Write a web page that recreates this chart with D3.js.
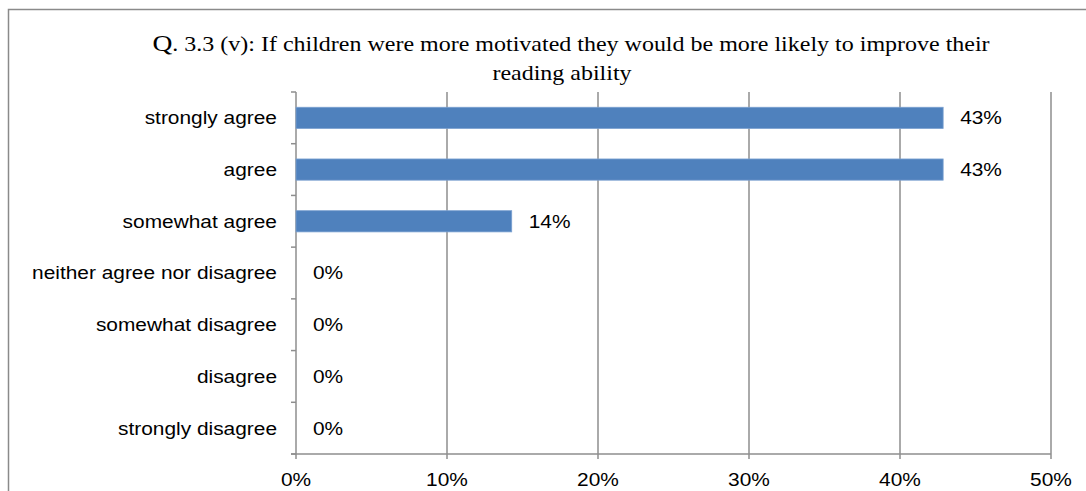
<!DOCTYPE html>
<html>
<head>
<meta charset="utf-8">
<script src="https://cdn.jsdelivr.net/npm/d3@7"></script>
<style>
  html, body { margin: 0; padding: 0; background: #fff; }
  svg { display: block; }
</style>
</head>
<body>
<svg id="chart" width="1086" height="491"></svg>
<script>
// Survey responses, share of respondents per answer
const categories = [
  "strongly agree",
  "agree",
  "somewhat agree",
  "neither agree nor disagree",
  "somewhat disagree",
  "disagree",
  "strongly disagree"
];
const shares = [3 / 7, 3 / 7, 1 / 7, 0, 0, 0, 0];
const xTicks = [0, 0.1, 0.2, 0.3, 0.4, 0.5];
const titleLines = [
  "Q. 3.3 (v): If children were more motivated they would be more likely to improve their",
  "reading ability"
];

const svg = d3.select("#chart");
const W = 1086, H = 491;
const plot = { left: 296, right: 1051, top: 92, bottom: 454 };
const gridColor = "#8e8e8e";
const barColor = "#4f81bd";
const pct = d3.format(".0%");
const sans = "Liberation Sans, Arial, sans-serif";
const labelSize = 18.5;
const sansStretch = 1.13;   // glyphs are drawn slightly wide
const serifStretch = 1.2;

// place a text at (px, py) with a horizontal stretch about its anchor
const placeText = (sel, px, py, sx) =>
  sel.attr("transform", (d, i) => `translate(${px(d, i)},${py(d, i)}) scale(${sx},1)`);

// Outer frame
svg.append("rect")
  .attr("x", 8.5).attr("y", 9.5)
  .attr("width", W + 10).attr("height", H + 10)
  .attr("fill", "none").attr("stroke", "#8a8a8a").attr("stroke-width", 1.5);

const x = d3.scaleLinear().domain([0, 0.5]).range([plot.left, plot.right]);
const y = d3.scaleBand().domain(categories).range([plot.top, plot.bottom]).paddingInner(0.59).paddingOuter(0.295);

// Vertical gridlines
svg.append("g").selectAll("line")
  .data(xTicks.slice(1))
  .join("line")
  .attr("x1", d => x(d)).attr("x2", d => x(d))
  .attr("y1", plot.top).attr("y2", plot.bottom)
  .attr("stroke", gridColor).attr("stroke-width", 1.5);

// Category axis (left)
const boundaries = d3.range(categories.length + 1).map(i => plot.top + i * (plot.bottom - plot.top) / categories.length);
const yAxis = svg.append("g");
yAxis.append("line")
  .attr("x1", plot.left).attr("x2", plot.left)
  .attr("y1", plot.top).attr("y2", plot.bottom)
  .attr("stroke", gridColor).attr("stroke-width", 1.5);
yAxis.selectAll("line.tick")
  .data(boundaries)
  .join("line").attr("class", "tick")
  .attr("x1", plot.left - 5).attr("x2", plot.left)
  .attr("y1", d => d).attr("y2", d => d)
  .attr("stroke", gridColor).attr("stroke-width", 1.5);
yAxis.selectAll("text")
  .data(categories)
  .join("text")
  .call(placeText, () => 277, d => y(d) + y.bandwidth() / 2, sansStretch)
  .attr("dy", "0.35em")
  .attr("text-anchor", "end")
  .attr("font-family", sans)
  .attr("font-size", labelSize)
  .attr("fill", "#000")
  .text(d => d);

// Value axis (bottom)
const xAxis = svg.append("g");
xAxis.append("line")
  .attr("x1", plot.left - 5).attr("x2", plot.right)
  .attr("y1", plot.bottom).attr("y2", plot.bottom)
  .attr("stroke", gridColor).attr("stroke-width", 1.5);
xAxis.selectAll("line.tick")
  .data(xTicks)
  .join("line").attr("class", "tick")
  .attr("x1", d => x(d)).attr("x2", d => x(d))
  .attr("y1", plot.bottom).attr("y2", plot.bottom + 5)
  .attr("stroke", gridColor).attr("stroke-width", 1.5);
xAxis.selectAll("text")
  .data(xTicks)
  .join("text")
  .call(placeText, d => x(d), () => 486, sansStretch)
  .attr("text-anchor", "middle")
  .attr("font-family", sans)
  .attr("font-size", labelSize)
  .attr("fill", "#000")
  .text(d => pct(d));

// Bars
const data = categories.map((c, i) => ({ category: c, value: shares[i] }));
svg.append("g").selectAll("rect")
  .data(data.filter(d => d.value > 0))
  .join("rect")
  .attr("x", x(0))
  .attr("y", d => y(d.category))
  .attr("width", d => x(d.value) - x(0))
  .attr("height", y.bandwidth())
  .attr("fill", barColor)
  .attr("stroke", "#7aa0d0").attr("stroke-width", 0.8);

// Value labels
svg.append("g").selectAll("text")
  .data(data)
  .join("text")
  .call(placeText, d => x(d.value) + 17, d => y(d.category) + y.bandwidth() / 2, sansStretch)
  .attr("dy", "0.35em")
  .attr("font-family", sans)
  .attr("font-size", labelSize)
  .attr("fill", "#000")
  .text(d => pct(d.value));

// Title
const title = svg.append("g")
  .attr("font-family", "Liberation Serif, Times New Roman, serif")
  .attr("font-size", 20)
  .attr("fill", "#000")
  .attr("text-anchor", "middle");
const t1 = title.append("text")
  .attr("transform", `translate(571,51) scale(${serifStretch},1)`);
t1.append("tspan").attr("font-size", 23).text(titleLines[0].slice(0, 1));
t1.append("tspan").text(titleLines[0].slice(1));
title.append("text")
  .attr("transform", `translate(562,80) scale(${serifStretch},1)`)
  .text(titleLines[1]);
</script>
</body>
</html>
